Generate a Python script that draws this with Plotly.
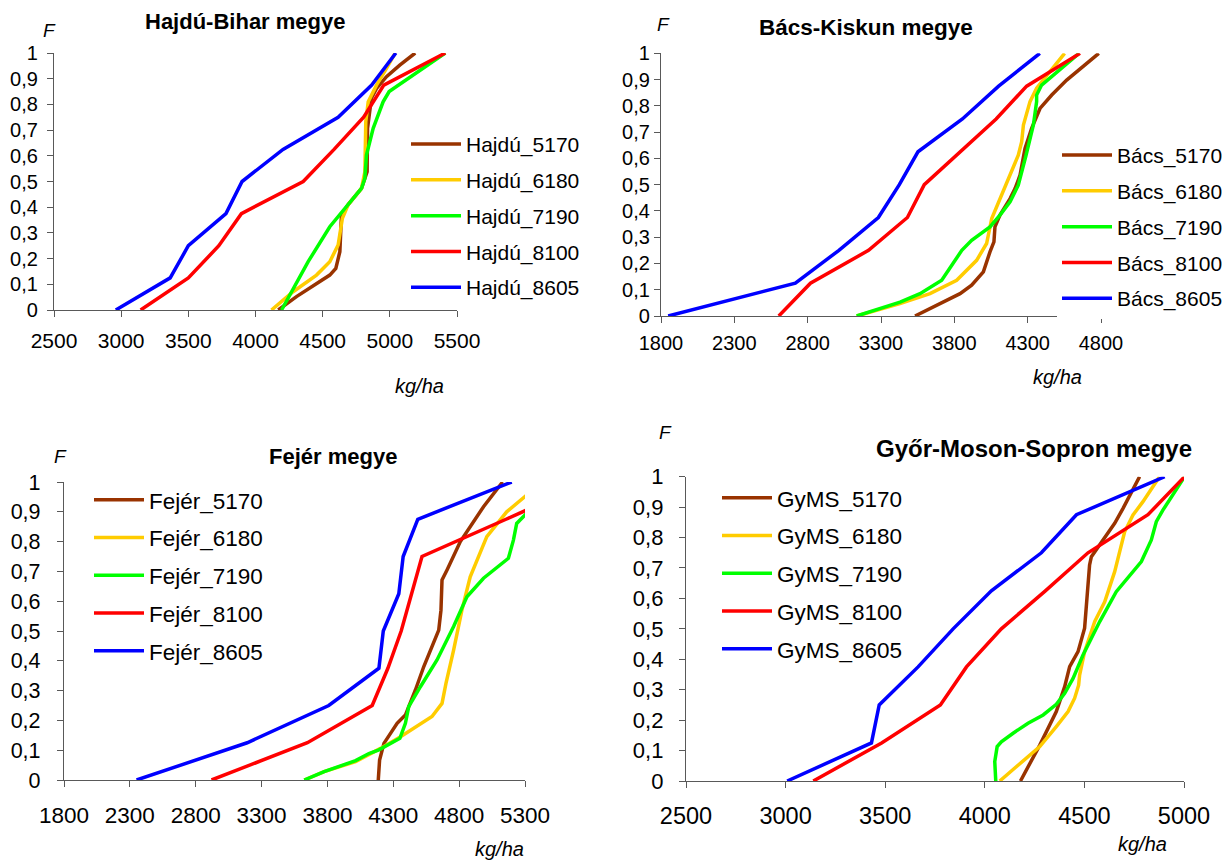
import plotly.graph_objects as go

W, H = 1230, 861
OFF = 8  # page body margin of the exported html

# ---------------- data ----------------
F8 = [0, 0.125, 0.25, 0.375, 0.5, 0.625, 0.75, 0.875, 1.0]

# Hajdú-Bihar
h5170_x = [4169, 4305, 4553, 4598, 4628, 4640, 4690, 4789, 4831, 4834, 4863, 4901, 4975, 5074, 5189]
h5170_f = [0, 0.052, 0.136, 0.162, 0.227, 0.37, 0.41, 0.473, 0.538, 0.707, 0.824, 0.862, 0.908, 0.953, 1.0]
h6180_x = [4119, 4280, 4454, 4553, 4615, 4647, 4690, 4789, 4814, 4821, 4839, 4901, 4975, 5040]
h6180_f = [0, 0.071, 0.136, 0.188, 0.253, 0.357, 0.41, 0.473, 0.538, 0.733, 0.81, 0.875, 0.94, 1.0]
h7190_x = [4194, 4392, 4553, 4702, 4789, 4814, 4826, 4876, 4950, 4995, 5413]
h7190_f = [0, 0.188, 0.324, 0.415, 0.473, 0.512, 0.603, 0.707, 0.81, 0.85, 1.0]
h8100_x = [3145, 3500, 3727, 3895, 4355, 4585, 4805, 4955, 5413]
h8605_x = [2960, 3365, 3500, 3780, 3900, 4205, 4615, 4865, 5045]

# Bács-Kiskun
b5170_x = [3532, 3657, 3839, 3918, 3998, 4043, 4070, 4077, 4111, 4180, 4214, 4248, 4282, 4327, 4384, 4464, 4566, 4785]
b5170_f = [0, 0.034, 0.085, 0.117, 0.168, 0.244, 0.282, 0.339, 0.384, 0.447, 0.485, 0.536, 0.638, 0.714, 0.79, 0.841, 0.898, 1.0]
b6180_x = [3134, 3300, 3429, 3634, 3703, 3816, 3952, 4020, 4055, 4134, 4236, 4259, 4271, 4316, 4361, 4552]
b6180_f = [0, 0.025, 0.047, 0.085, 0.104, 0.136, 0.212, 0.276, 0.371, 0.473, 0.612, 0.663, 0.727, 0.816, 0.867, 1.0]
b7190_x = [3134, 3300, 3430, 3566, 3714, 3851, 3918, 4043, 4111, 4180, 4236, 4289, 4339, 4361, 4361, 4395, 4464, 4650]
b7190_f = [0, 0.03, 0.053, 0.085, 0.136, 0.25, 0.288, 0.339, 0.384, 0.435, 0.498, 0.612, 0.727, 0.816, 0.841, 0.879, 0.911, 1.0]
b8100_x = [2603, 2819, 3215, 3480, 3595, 3840, 4085, 4293, 4657]
b8605_x = [1849, 2716, 3013, 3282, 3425, 3552, 3855, 4102, 4383]

# Fejér
f5170_x = [4186, 4196, 4229, 4329, 4392, 4468, 4531, 4645, 4662, 4670, 4708, 4809, 4985, 5130]
f5170_f = [0, 0.067, 0.123, 0.19, 0.218, 0.302, 0.38, 0.503, 0.57, 0.671, 0.705, 0.8, 0.917, 1.0]
f6180_x = [3624, 3775, 4014, 4203, 4355, 4594, 4670, 4700, 4758, 4821, 4884, 5010, 5161, 5313]
f6180_f = [0, 0.028, 0.062, 0.106, 0.145, 0.213, 0.257, 0.324, 0.436, 0.57, 0.682, 0.817, 0.9, 0.956]
f7190_x = [3624, 3775, 4014, 4115, 4191, 4350, 4392, 4417, 4506, 4632, 4758, 4859, 4985, 5174, 5212, 5237, 5313]
f7190_f = [0, 0.028, 0.065, 0.089, 0.101, 0.14, 0.19, 0.246, 0.313, 0.403, 0.515, 0.615, 0.677, 0.744, 0.805, 0.861, 0.895]
f8100_x = [2920, 3648, 4140, 4259, 4360, 4439, 4518, 5156, 5313]
f8100_f = [0, 0.125, 0.25, 0.375, 0.5, 0.625, 0.75, 0.875, 0.906]
f8605_x = [2351, 3191, 3810, 4191, 4224, 4342, 4375, 4486, 5199]

# Győr-Moson-Sopron
g5170_x = [4179, 4276, 4359, 4401, 4426, 4468, 4501, 4526, 4535, 4577, 4652, 4694, 4777]
g5170_f = [0, 0.118, 0.228, 0.31, 0.376, 0.425, 0.502, 0.71, 0.737, 0.775, 0.847, 0.896, 1.0]
g6180_x = [4075, 4175, 4276, 4359, 4418, 4451, 4471, 4476, 4501, 4552, 4602, 4652, 4702, 4744, 4794, 4877]
g6180_f = [0, 0.058, 0.113, 0.179, 0.228, 0.272, 0.315, 0.348, 0.425, 0.524, 0.589, 0.688, 0.819, 0.874, 0.918, 1.0]
g7190_x = [4055, 4050, 4062, 4083, 4142, 4217, 4293, 4359, 4401, 4443, 4493, 4577, 4660, 4727, 4786, 4836, 4861, 4894, 5003]
g7190_f = [0, 0.064, 0.113, 0.129, 0.157, 0.19, 0.217, 0.252, 0.288, 0.337, 0.414, 0.524, 0.622, 0.677, 0.721, 0.792, 0.852, 0.89, 1.0]
g8100_x = [3139, 3482, 3777, 3908, 4083, 4304, 4518, 4819, 5003]
g8605_x = [3008, 3431, 3470, 3665, 3841, 4033, 4284, 4460, 4903]

y_ticks = [0, 0.1, 0.2, 0.3, 0.4, 0.5, 0.6, 0.7, 0.8, 0.9, 1.0]
y_labels = ["0", "0,1", "0,2", "0,3", "0,4", "0,5", "0,6", "0,7", "0,8", "0,9", "1"]
x_ticks_1 = [2500, 3000, 3500, 4000, 4500, 5000, 5500]
x_ticks_2 = [1800, 2300, 2800, 3300, 3800, 4300, 4800]
x_ticks_3 = [1800, 2300, 2800, 3300, 3800, 4300, 4800, 5300]
x_ticks_4 = [2500, 3000, 3500, 4000, 4500, 5000]

titles = ["Hajdú-Bihar megye", "Bács-Kiskun megye", "Fejér megye", "Győr-Moson-Sopron megye"]
prefixes = ["Hajdú", "Bács", "Fejér", "GyMS"]
hybrids = ["5170", "6180", "7190", "8100", "8605"]
colors = ["#993300", "#FFCC00", "#00FF00", "#FF0000", "#0000FF"]

panels = [
    [(h5170_x, h5170_f), (h6180_x, h6180_f), (h7190_x, h7190_f), (h8100_x, F8), (h8605_x, F8)],
    [(b5170_x, b5170_f), (b6180_x, b6180_f), (b7190_x, b7190_f), (b8100_x, F8), (b8605_x, F8)],
    [(f5170_x, f5170_f), (f6180_x, f6180_f), (f7190_x, f7190_f), (f8100_x, f8100_f), (f8605_x, F8)],
    [(g5170_x, g5170_f), (g6180_x, g6180_f), (g7190_x, g7190_f), (g8100_x, F8), (g8605_x, F8)],
]

# ---------------- layout geometry (reference pixels) ----------------
areas = [(54, 457, 53, 310), (661, 1101, 53.3, 316), (64, 525, 482, 780), (686, 1184, 476.7, 781)]
xranges = [[2500, 5500], [1800, 4800], [1800, 5300], [2500, 5000]]
xticks = [x_ticks_1, x_ticks_2, x_ticks_3, x_ticks_4]
xtick_font = [21, 20, 22.5, 23.5]
ytick_font = [20, 20, 21.5, 22]
legend_font = [21, 21, 22.5, 22.5]
legend_gap = [5.5, 5.5, 5.5, 5.5]
ylab_standoff = [5, 0, 12, 11]
xlab_standoff = [6, 3, 9, 8]
legend_pos = [(406, 123.9), (1057, 134.9), (89, 478.6), (717, 476.7)]
title_pos = [(245, 21, 22), (866, 27, 22.5), (333, 457, 22), (1034, 449, 24)]
F_pos = [(49, 31), (663, 24.5), (61, 457), (665, 432)]
kg_pos = [(419, 386), (1057, 377), (499, 849), (1142, 844)]

FONT = "Liberation Sans, Arial, sans-serif"
AXC = "#595959"
FW, FH = W - OFF, H - OFF


def px(x):
    return (x - OFF) / FW


def py(y):
    return 1 - (y - OFF) / FH


fig = go.Figure()
layout = dict(
    width=FW, height=FH,
    margin=dict(l=0, r=0, t=0, b=0, autoexpand=False),
    paper_bgcolor="white", plot_bgcolor="white",
    font=dict(family=FONT, color="black"),
    annotations=[],
)

for i in range(4):
    k = "" if i == 0 else str(i + 1)
    leg = "legend" if i == 0 else "legend%d" % (i + 1)
    for j, (xs, fs) in enumerate(panels[i]):
        fig.add_trace(go.Scatter(
            x=xs, y=fs, mode="lines",
            name="%s_%s" % (prefixes[i], hybrids[j]),
            line=dict(color=colors[j], width=3.5),
            xaxis="x" + k, yaxis="y" + k,
            legend=leg, legendgroup="g%d_%d" % (i, j),
            hoverinfo="skip",
        ))
    l, r, t, b = areas[i]
    layout["xaxis" + k] = dict(
        domain=[px(l), px(r)], range=xranges[i], anchor="y" + k,
        tickvals=xticks[i], ticktext=[str(v) for v in xticks[i]],
        showline=True, linecolor=AXC, linewidth=1.3,
        ticks="outside", ticklen=6, tickcolor=AXC, tickwidth=1.3,
        showgrid=False, zeroline=False, fixedrange=True,
        tickfont=dict(size=xtick_font[i], color="black", family=FONT),
        ticklabelstandoff=xlab_standoff[i],
    )
    layout["yaxis" + k] = dict(
        domain=[py(b), py(t)], range=[0, 1], anchor="x" + k,
        tickvals=y_ticks, ticktext=y_labels,
        showline=True, linecolor=AXC, linewidth=1.3,
        ticks="outside", ticklen=6, tickcolor=AXC, tickwidth=1.3,
        showgrid=False, zeroline=False, fixedrange=True,
        tickfont=dict(size=ytick_font[i], color="black", family=FONT),
        ticklabelstandoff=ylab_standoff[i],
    )
    lx, ly = legend_pos[i]
    layout[leg] = dict(
        x=px(lx), y=py(ly), xanchor="left", yanchor="top",
        xref="paper", yref="paper",
        bgcolor="white", borderwidth=0,
        font=dict(size=legend_font[i], color="black", family=FONT),
        traceorder="grouped", tracegroupgap=legend_gap[i], itemwidth=50,
    )
    tx, ty, ts = title_pos[i]
    layout["annotations"].append(dict(
        x=px(tx), y=py(ty), xref="paper", yref="paper", showarrow=False,
        xanchor="center", yanchor="middle", text="<b>%s</b>" % titles[i],
        font=dict(size=ts, color="black", family=FONT)))
    fx, fy = F_pos[i]
    layout["annotations"].append(dict(
        x=px(fx), y=py(fy), xref="paper", yref="paper", showarrow=False,
        xanchor="center", yanchor="middle", text="<i>F</i>",
        font=dict(size=19, color="black", family=FONT)))
    kx, ky = kg_pos[i]
    layout["annotations"].append(dict(
        x=px(kx), y=py(ky), xref="paper", yref="paper", showarrow=False,
        xanchor="center", yanchor="middle", text="<i>kg/ha</i>",
        font=dict(size=20, color="black", family=FONT)))

fig.update_layout(**layout)
fig.write_html("out.html")
